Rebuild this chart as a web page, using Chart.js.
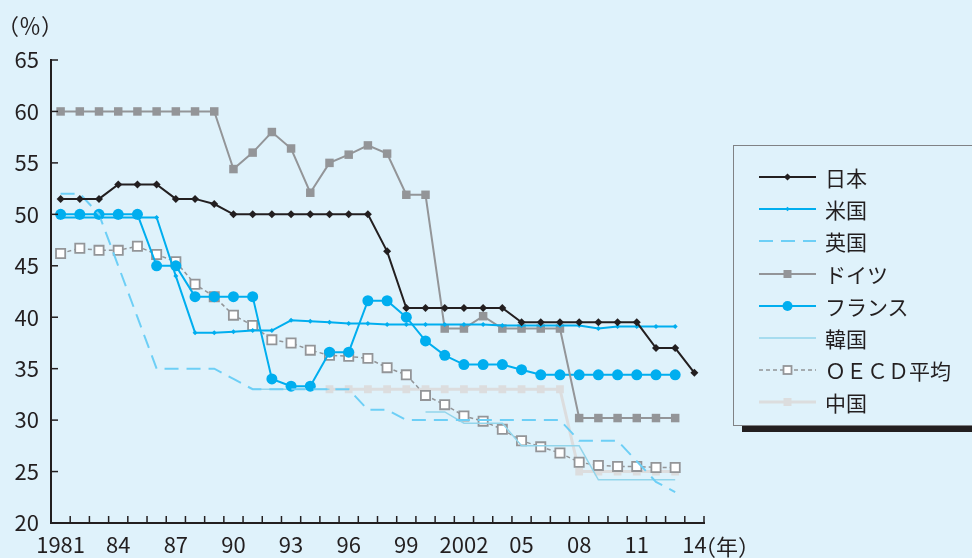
<!DOCTYPE html>
<html lang="ja">
<head>
<meta charset="utf-8">
<script src="https://cdn.jsdelivr.net/npm/chart.js@4/dist/chart.umd.min.js"></script>
<style>
  html, body { margin: 0; padding: 0; background: #dff2fb; }
  #wrap { position: relative; width: 972px; height: 558px; overflow: hidden; background: #dff2fb; }
  #chart { display: block; }
  #legend {
    position: absolute; left: 733px; top: 145px; width: 260px; height: 281px;
    box-sizing: border-box; border: 1.5px solid #808285; background: #dff2fb;
    box-shadow: 9px 6px 0 #231f20; padding-top: 15px;
  }
  .item { display: flex; align-items: center; height: 32.2px; }
  .item svg { margin-left: 25px; flex: none; }
  .item span { margin-left: 9px; font: 21px 'Noto Sans CJK JP', sans-serif; color: #231f20; white-space: nowrap; }
</style>
</head>
<body>
<div id="wrap">
  <canvas id="chart" width="972" height="558"></canvas>
  <div id="legend"></div>
</div>
<script>
// Years on the category axis
const years = ['1981','1982','1983','1984','1985','1986','1987','1988','1989','1990',
               '1991','1992','1993','1994','1995','1996','1997','1998','1999','2000',
               '2001','2002','2003','2004','2005','2006','2007','2008','2009','2010',
               '2011','2012','2013','2014'];

// Years that carry a printed label, and the text printed for them
const tickYears = ['1981','1984','1987','1990','1993','1996','1999','2002','2005','2008','2011','2014'];
const tickText  = ['1981','84','87','90','93','96','99','2002','05','08','11','14'];

// Statutory corporate tax rates (%)
const japan   = [51.5,51.5,51.5,52.9,52.9,52.9,51.5,51.5,51.0,50.0,
                 50.0,50.0,50.0,50.0,50.0,50.0,50.0,46.4,40.9,40.9,
                 40.9,40.9,40.9,40.9,39.5,39.5,39.5,39.5,39.5,39.5,
                 39.5,37.0,37.0,34.6];
const usa     = [49.7,49.7,49.7,49.7,49.7,49.7,44.0,38.5,38.5,38.6,
                 38.7,38.7,39.7,39.6,39.5,39.4,39.4,39.3,39.3,39.3,
                 39.3,39.3,39.3,39.2,39.2,39.2,39.2,39.2,38.9,39.1,
                 39.1,39.1,39.1,null];
const uk      = [52,52,50,45,40,35,35,35,35,34,
                 33,33,33,33,33,33,31,31,30,30,
                 30,30,30,30,30,30,30,28,28,28,
                 26,24,23,null];
const germany = [60,60,60,60,60,60,60,60,60,54.4,
                 56.0,58.0,56.4,52.1,55.0,55.8,56.7,55.9,51.9,51.9,
                 38.9,38.9,40.1,38.9,38.9,38.9,38.9,30.2,30.2,30.2,
                 30.2,30.2,30.2,null];
const france  = [50,50,50,50,50,45,45,42,42,42,
                 42,34,33.3,33.3,36.6,36.6,41.6,41.6,40.0,37.7,
                 36.3,35.4,35.4,35.4,34.9,34.4,34.4,34.4,34.4,34.4,
                 34.4,34.4,34.4,null];
const korea   = [null,null,null,null,null,null,null,null,null,null,
                 33,33,33,33,33,null,null,null,null,30.8,
                 30.8,29.7,29.7,29.7,27.5,27.5,27.5,27.5,24.2,24.2,
                 24.2,24.2,24.2,null];
const oecd    = [46.2,46.7,46.5,46.5,46.9,46.1,45.4,43.2,42.0,40.2,
                 39.2,37.8,37.5,36.8,36.3,36.2,36.0,35.1,34.4,32.4,
                 31.5,30.4,29.9,29.1,28.0,27.4,26.8,25.9,25.6,25.5,
                 25.5,25.4,25.4,null];
const china   = [null,null,null,null,null,null,null,null,null,null,
                 null,null,null,null,33,33,33,33,33,33,
                 33,33,33,33,33,33,33,25,25,25,
                 25,25,25,null];

const seriesNames = ['日本','米国','英国','ドイツ','フランス','韓国','ＯＥＣＤ平均','中国'];
const seriesData  = [japan, usa, uk, germany, france, korea, oecd, china];

// Drawing style of each series
const styles = [
  { color: '#231f20', width: 2,   dash: [],     point: 'rectRot', r: 4,   fill: '#231f20', bw: 0 },
  { color: '#00aeef', width: 2,   dash: [],     point: 'rectRot', r: 2.5, fill: '#00aeef', bw: 0 },
  { color: '#6dcff6', width: 2,   dash: [14,8], point: false,     r: 0,   fill: '#6dcff6', bw: 0 },
  { color: '#939598', width: 2,   dash: [],     point: 'rect',    r: 6,   fill: '#939598', bw: 0 },
  { color: '#00aeef', width: 2,   dash: [],     point: 'circle',  r: 5.5, fill: '#00aeef', bw: 0 },
  { color: '#93d5eb', width: 1.5, dash: [],     point: false,     r: 0,   fill: '#93d5eb', bw: 0 },
  { color: '#939598', width: 1.5, dash: [4,3],  point: 'rect',    r: 6.5, fill: '#ffffff', bw: 1.8 },
  { color: '#dcddde', width: 3,   dash: [],     point: 'rect',    r: 5.5, fill: '#dcddde', bw: 0 }
];

const INK = '#231f20';
const FONT = "'Noto Sans CJK JP', 'Noto Sans', sans-serif";

const datasets = seriesNames.map((name, i) => {
  const s = styles[i];
  return {
    label: name,
    data: seriesData[i],
    borderColor: s.color,
    borderWidth: s.width,
    borderDash: s.dash,
    backgroundColor: s.fill,
    pointStyle: s.point || 'circle',
    pointRadius: s.point ? s.r : 0,
    pointHoverRadius: s.point ? s.r : 0,
    pointBackgroundColor: s.fill,
    pointBorderColor: s.color,
    pointBorderWidth: s.bw,
    tension: 0,
    spanGaps: false,
    fill: false
  };
});

// Inward tick marks on both axes plus the unit captions
const axisDecor = {
  id: 'axisDecor',
  afterDraw(chart) {
    const { ctx, chartArea: a, scales: { x, y } } = chart;
    ctx.save();
    ctx.strokeStyle = INK;
    ctx.lineWidth = 1.5;
    for (let i = 0; i <= years.length; i++) {
      const px = x.getPixelForValue(i - 0.5);
      ctx.beginPath();
      ctx.moveTo(px, a.bottom);
      ctx.lineTo(px, a.bottom - 7);
      ctx.stroke();
    }
    y.ticks.forEach((t) => {
      const py = y.getPixelForValue(t.value);
      ctx.beginPath();
      ctx.moveTo(a.left, py);
      ctx.lineTo(a.left + 7, py);
      ctx.stroke();
    });
    ctx.fillStyle = INK;
    ctx.textBaseline = 'middle';
    ctx.textAlign = 'left';
    ctx.font = '22px ' + FONT;
    ctx.fillText('（％）', -3, 26);
    ctx.fillText('（年', 694, 547);
    ctx.fillText('）', 738, 547);
    ctx.restore();
  }
};

new Chart(document.getElementById('chart'), {
  type: 'line',
  data: { labels: years, datasets },
  options: {
    responsive: false,
    animation: false,
    events: [],
    layout: { padding: { left: 0, right: 268, top: 60, bottom: 0 } },
    plugins: { legend: { display: false }, tooltip: { enabled: false } },
    scales: {
      x: {
        offset: true,
        grid: { display: false, drawTicks: false, offset: true },
        border: { display: true, color: INK, width: 2 },
        afterFit(scale) { scale.height = 35; },
        ticks: {
          autoSkip: false,
          maxRotation: 0,
          padding: 8,
          color: INK,
          font: { family: FONT, size: 22 },
          callback(value) {
            const k = tickYears.indexOf(years[value]);
            return k >= 0 ? tickText[k] : '';
          }
        }
      },
      y: {
        min: 20,
        max: 65,
        grid: { display: false, drawTicks: false },
        border: { display: true, color: INK, width: 2 },
        afterFit(scale) { scale.width = 51; },
        ticks: {
          stepSize: 5,
          padding: 12,
          color: INK,
          font: { family: FONT, size: 22 }
        }
      }
    }
  },
  plugins: [axisDecor]
});

// Legend built from the same series styles
const legendEl = document.getElementById('legend');
seriesNames.forEach((name, i) => {
  const s = styles[i];
  const W = 57, H = 14, cx = W / 2, cy = H / 2;
  let mark = '';
  if (s.point === 'rectRot') {
    const r = s.r * 0.9;
    mark = `<polygon points="${cx - r},${cy} ${cx},${cy - r} ${cx + r},${cy} ${cx},${cy + r}" fill="${s.fill}"/>`;
  } else if (s.point === 'rect') {
    const h = 4;
    mark = `<rect x="${cx - h}" y="${cy - h}" width="${2 * h}" height="${2 * h}" fill="${s.fill}" stroke="${s.color}" stroke-width="${s.bw}"/>`;
  } else if (s.point === 'circle') {
    mark = `<circle cx="${cx}" cy="${cy}" r="5" fill="${s.fill}"/>`;
  }
  const dash = s.dash.length ? `stroke-dasharray="${s.dash.join(',')}"` : '';
  const row = document.createElement('div');
  row.className = 'item';
  row.innerHTML =
    `<svg width="${W}" height="${H}" viewBox="0 0 ${W} ${H}">` +
    `<line x1="0" y1="${cy}" x2="${W}" y2="${cy}" stroke="${s.color}" stroke-width="${s.width}" ${dash}/>` +
    mark + `</svg><span>${name}</span>`;
  legendEl.appendChild(row);
});
</script>
</body>
</html>
